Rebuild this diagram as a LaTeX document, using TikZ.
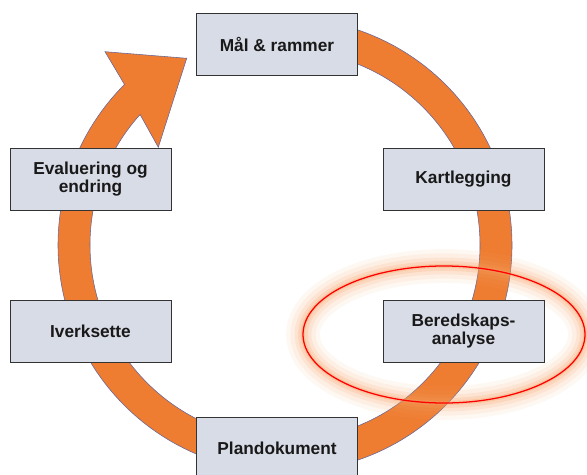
\documentclass[tikz,border=0pt]{standalone}
\usepackage{fontspec}
\setmainfont{Liberation Sans}
\usetikzlibrary{calc}
\definecolor{ringorange}{RGB}{238,125,49}
\definecolor{boxfill}{RGB}{216,220,231}
\definecolor{glowpeach}{RGB}{247,160,100}

\begin{document}
\begin{tikzpicture}[
    stagebox/.style={draw=black!80, line width=0.6pt, fill=boxfill, minimum width=4.025cm, minimum height=1.55cm,
        inner sep=0pt, align=center, text=black!90, font=\fontsize{12.3}{12.5}\selectfont\bfseries},
    ringband/.style={draw=gray!80!blue, line width=0.4pt, fill=ringorange}
]
    \useasboundingbox (0,0) rectangle (14.675,-11.875);

    % Ring centre and arrow head corners
    \coordinate (c) at (7.125,-6.125);
    \coordinate (barbout) at (2.625,-1.2925);
    \coordinate (tip) at (4.6675,-1.4575);
    \coordinate (barbin) at (3.9575,-3.6825);

    % Orange ring, clockwise, ending in the arrow head
    \filldraw[ringband] ($(c)+(95:5.675)$) arc[start angle=95, end angle=-225, radius=5.675]
        -- (barbout) -- (tip) -- (barbin)
        -- ($(c)+(138:4.875)$) arc[start angle=-222, end angle=95, radius=4.875] -- cycle;

    % Red ellipse with soft glow
    \foreach \w/\o in {24/0.08, 18/0.10, 12/0.14, 7/0.2, 3/0.3} {
        \draw[glowpeach, line width=\w pt, opacity=\o] (11.1,-8.3625) ellipse [x radius=3.525, y radius=1.7125];
    }
    \draw[red, line width=0.9pt] (11.1,-8.3625) ellipse [x radius=3.525, y radius=1.7125];

    % Stages
    \node[stagebox] (mal) at (6.925,-1.1125) {Mål \& rammer};
    \node[stagebox] (kart) at (11.5875,-4.475) {Kartlegging};
    \node[stagebox] (bered) at (11.5875,-8.275) {Beredskaps-\\analyse};
    \node[stagebox] (plan) at (6.925,-11.2) {Plandokument};
    \node[stagebox] (iverk) at (2.2625,-8.275) {Iverksette};
    \node[stagebox] (eval) at (2.2625,-4.475) {Evaluering og\\endring};
\end{tikzpicture}
\end{document}
